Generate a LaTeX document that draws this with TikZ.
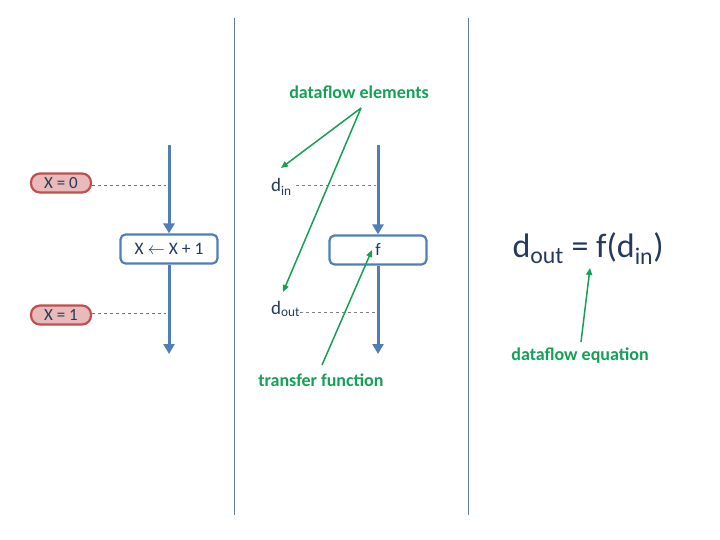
\documentclass[tikz,border=0pt]{standalone}
\usepackage{fontspec}
\setmainfont{Carlito}
\usepackage{tikz}
\usetikzlibrary{arrows.meta}
\definecolor{flowblue}{RGB}{79,126,185}
\definecolor{sepline}{RGB}{100,122,155}
\definecolor{pillred}{RGB}{192,80,77}
\definecolor{pillfill}{RGB}{232,186,185}
\definecolor{notegreen}{RGB}{20,160,85}
\definecolor{textnavy}{RGB}{35,58,92}

\begin{document}
\begin{tikzpicture}[x=1pt,y=-1pt,
  flowarrow/.style={flowblue,line width=3pt,-{Triangle[length=10pt,width=11pt]}},
  stmtbox/.style={draw=flowblue,line width=2.2pt,rounded corners=5pt,fill=white,
    minimum width=97pt,minimum height=29pt,inner sep=0pt,text=textnavy,
    font=\fontsize{17.5}{20}\selectfont},
  pill/.style={draw=pillred,fill=pillfill,line width=2.2pt,rounded corners=9pt,
    minimum width=60pt,minimum height=19pt,inner sep=0pt,text=textnavy,
    font=\fontsize{17}{19}\selectfont},
  elem/.style={text=textnavy,font=\fontsize{19}{21}\selectfont,inner sep=0pt},
  note/.style={text=notegreen,font=\bfseries\fontsize{18}{20}\selectfont},
  pointer/.style={notegreen,line width=1.5pt,-{Triangle[length=7pt,width=6pt]}}]
\useasboundingbox (0,0) rectangle (720,540);

% separators
\coordinate (sepAtop) at (234,18);
\coordinate (sepAbot) at (234,515);
\coordinate (sepBtop) at (468,18);
\coordinate (sepBbot) at (468,515);
\draw[sepline,line width=0.9pt] (sepAtop) -- (sepAbot);
\draw[sepline,line width=0.9pt] (sepBtop) -- (sepBbot);

% left: statement example
\node[stmtbox] (inc) at (169,249) {X $\leftarrow$ X + 1};
\coordinate (incTop) at (169,145);
\coordinate (incEnd) at (169,354);
\draw[flowarrow] (incTop) -- (inc.north);
\draw[flowarrow] (inc.south) -- (incEnd);
\node[pill] (xzero) at (61,183) {X = 0};
\node[pill] (xone) at (61,315) {X = 1};
\coordinate (xzeroEnd) at (166,185);
\coordinate (xoneEnd) at (166,313);
\draw[pillred,dashed,line width=0.7pt] (xzero.east |- xzeroEnd) -- (xzeroEnd);
\draw[pillred,dashed,line width=0.7pt] (xone.east |- xoneEnd) -- (xoneEnd);

% middle: transfer function
\node[stmtbox] (tf) at (378,250) {f};
\coordinate (tfTop) at (378,145);
\coordinate (tfEnd) at (378,354);
\draw[flowarrow] (tfTop) -- (tf.north);
\draw[flowarrow] (tf.south) -- (tfEnd);
\node[elem,anchor=base west] (din) at (271,192) {d\textsubscript{in}};
\node[elem,anchor=base west] (dout) at (271,314) {d\textsubscript{out}};
\coordinate (dinEnd) at (376,185);
\coordinate (doutEnd) at (376,312);
\draw[gray,dashed,line width=0.7pt] (din.east |- dinEnd) ++(4,0) -- (dinEnd);
\draw[gray,dashed,line width=0.7pt] (dout.east |- doutEnd) -- (doutEnd);

% labels
\node[note] (elems) at (359,92) {dataflow elements};
\coordinate (elemsFoot) at (361,108);
\coordinate (dinTip) at (281,168);
\coordinate (doutTip) at (283,292);
\draw[pointer] (elemsFoot) -- (dinTip);
\draw[pointer] (elemsFoot) -- (doutTip);
\node[note] (transfer) at (321,380) {transfer function};
\coordinate (transferFoot) at (322,365);
\coordinate (fTip) at (372,250);
\draw[pointer] (transferFoot) -- (fTip);

% right: equation
\node[text=textnavy,font=\fontsize{34}{38}\selectfont,anchor=base west] (eqn) at (509,257)
  {d\textsubscript{out} = f(d\textsubscript{in})};
\node[note] (eqnote) at (580,356) {dataflow equation};
\coordinate (eqFoot) at (581,342);
\coordinate (eqTip) at (590,268);
\draw[pointer] (eqFoot) -- (eqTip);
\end{tikzpicture}
\end{document}
